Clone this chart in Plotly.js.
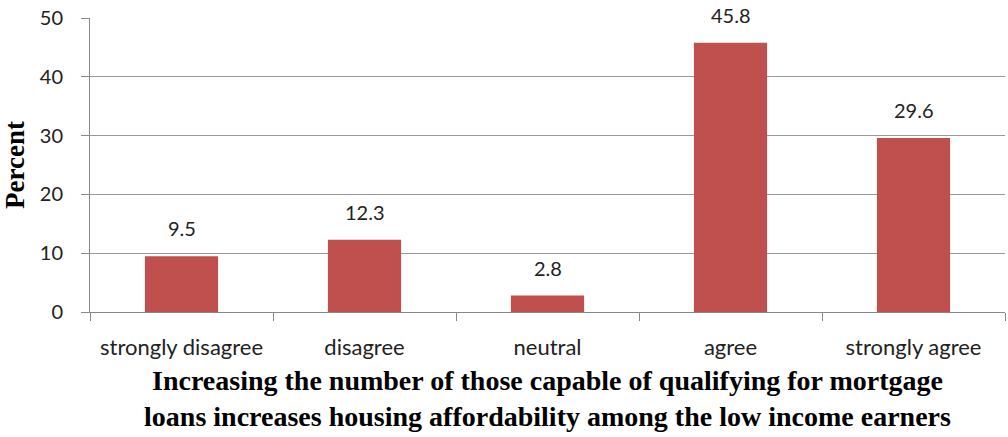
<!DOCTYPE html>
<html><head><meta charset="utf-8">
<script src="https://cdn.plot.ly/plotly-3.0.1.min.js"></script>
<style>html,body{margin:0;padding:0;background:#fff}#c{width:1008px;height:437px}</style>
</head><body><div id="c"></div>
<script>
const categories = ["strongly disagree", "disagree", "neutral", "agree", "strongly agree"];
const percents = [9.5, 12.3, 2.8, 45.8, 29.6];
const yTicks = [0, 10, 20, 30, 40, 50];
const xTitle = "Increasing the number of those capable of qualifying for mortgage<br>loans increases housing affordability among the low income earners";
const yTitle = "Percent";

const trace = {
  type: "bar", x: categories, y: percents,
  marker: {color: "#C0504D", line: {width: 0}},
  width: 0.4,
  hoverinfo: "none"
};
const annotations = categories.map((c, i) => ({
  x: c, y: percents[i], xref: "x", yref: "y",
  text: percents[i].toFixed(1), showarrow: false,
  yanchor: "bottom", yshift: 14,
  font: {family: "Lato, sans-serif", size: 20, color: "#222"}
}));
const layout = {
  width: 1008, height: 437,
  margin: {l: 90, r: 3, t: 18, b: 125},
  paper_bgcolor: "#fff", plot_bgcolor: "#fff",
  showlegend: false, annotations: annotations,
  xaxis: {
    type: "category", showline: true, linecolor: "#888", linewidth: 1,
    ticks: "outside", tickson: "boundaries", ticklen: 8, tickcolor: "#888",
    showgrid: false, tickfont: {family: "Lato, sans-serif", size: 22, color: "#222"},
    ticklabelstandoff: 16,
    title: {text: xTitle, font: {family: "'Liberation Serif', serif", size: 28, color: "#000", weight: "bold"}, standoff: 10}
  },
  yaxis: {
    range: [0, 50], tickvals: yTicks, showline: true, linecolor: "#888", linewidth: 1,
    ticks: "outside", ticklen: 8, tickcolor: "#888",
    showgrid: true, gridcolor: "#999", gridwidth: 1, zeroline: false,
    tickfont: {family: "Lato, sans-serif", size: 20, color: "#222"},
    ticklabelstandoff: 14,
    title: {text: yTitle, font: {family: "'Liberation Serif', serif", size: 27, color: "#000", weight: "bold"}, standoff: 8}
  }
};
Plotly.newPlot("c", [trace], layout, {displayModeBar: false, staticPlot: true});
</script></body></html>
